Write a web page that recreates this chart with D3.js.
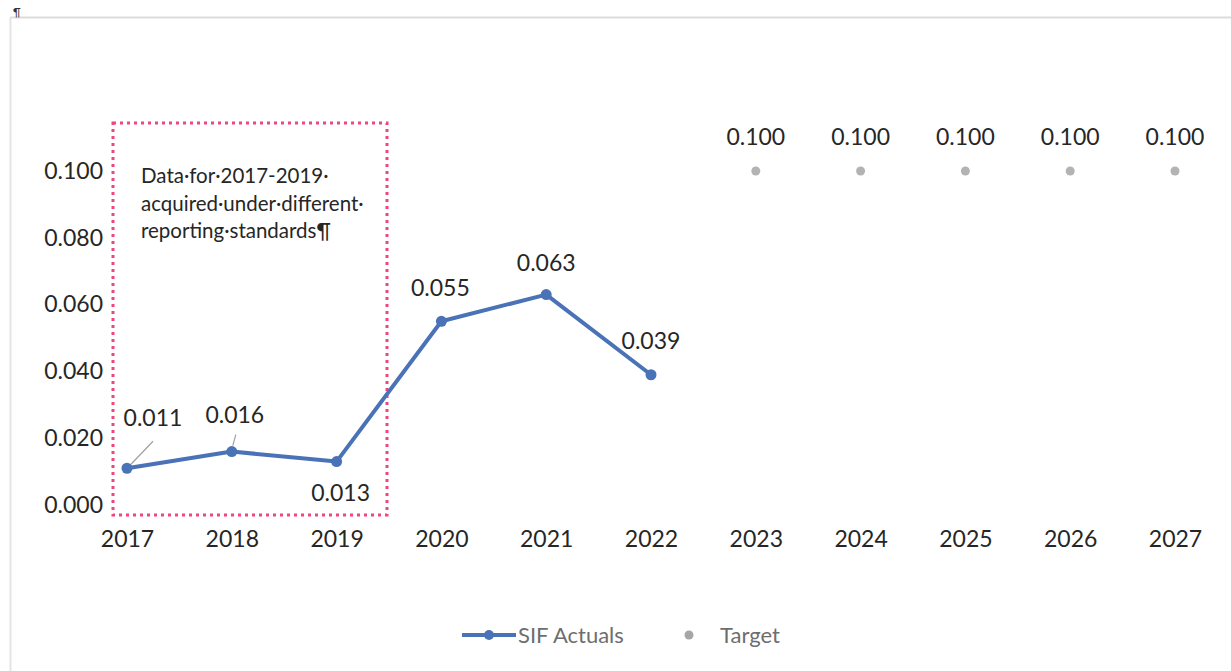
<!DOCTYPE html>
<html>
<head>
<meta charset="utf-8">
<script src="https://cdn.jsdelivr.net/npm/d3@7"></script>
<style>
  html, body { margin: 0; padding: 0; background: #ffffff; }
  svg { display: block; }
  text { font-family: Lato, "Open Sans", sans-serif; }
</style>
</head>
<body>
<svg id="chart" width="1231" height="671"></svg>
<script>
// ---- data ----
const years = ["2017", "2018", "2019", "2020", "2021", "2022", "2023", "2024", "2025", "2026", "2027"];
const actualYears = ["2017", "2018", "2019", "2020", "2021", "2022"];
const actualValues = [0.011, 0.016, 0.013, 0.055, 0.063, 0.039];
const targetYears = ["2023", "2024", "2025", "2026", "2027"];
const targetValues = [0.100, 0.100, 0.100, 0.100, 0.100];
const yTicks = [0.000, 0.020, 0.040, 0.060, 0.080, 0.100];
const seriesNames = ["SIF Actuals", "Target"];
const noteLines = ["Data·for·2017-2019·", "acquired·under·different·", "reporting·standards¶"];
const shadedYears = ["2017", "2019"];

// ---- layout ----
const W = 1231, H = 671;
const svg = d3.select("#chart");
const fmt = d3.format(".3f");

const x = d3.scalePoint().domain(years).range([127, 1175]);
const y = d3.scaleLinear().domain([0, 0.1]).range([505, 171]);

const lineColor = "#4a72b6";
const targetColor = "#a6a6a6";
const textColor = "#262626";
const fontSize = 23;

// frame of the chart area
svg.append("line").attr("x1", 10).attr("x2", W).attr("y1", 17.5).attr("y2", 17.5)
  .attr("stroke", "#dcdcdc").attr("stroke-width", 2);
svg.append("line").attr("x1", 10.5).attr("x2", 10.5).attr("y1", 17).attr("y2", H)
  .attr("stroke", "#e4e4e4").attr("stroke-width", 2);
svg.append("text").attr("x", 13).attr("y", 16).attr("font-size", 11)
  .attr("fill", "#333").text("¶");

// y axis
const yAxis = svg.append("g").attr("transform", "translate(103,0)")
  .call(d3.axisLeft(y).tickValues(yTicks).tickFormat(fmt).tickSize(0).tickPadding(0));
yAxis.select(".domain").remove();
yAxis.selectAll("text").attr("font-size", fontSize).attr("fill", textColor)
  .style("font-family", "Lato, sans-serif");

// x axis
const xAxis = svg.append("g").attr("transform", "translate(0,505)")
  .call(d3.axisBottom(x).tickSize(0).tickPadding(26));
xAxis.select(".domain").remove();
xAxis.selectAll("text").attr("font-size", fontSize).attr("fill", textColor)
  .style("font-family", "Lato, sans-serif");

// dotted frame around the earlier reporting period
const half = x.step() / 2;
const boxX0 = x(shadedYears[0]) - 14;
const boxX1 = x(shadedYears[1]) + half - 2;
svg.append("rect")
  .attr("x", boxX0).attr("y", y(0.1) - 48)
  .attr("width", boxX1 - boxX0).attr("height", y(0) + 10 - (y(0.1) - 48))
  .attr("fill", "none").attr("stroke", "#f0467a").attr("stroke-width", 3)
  .attr("stroke-dasharray", "3,4");

const note = svg.append("text").attr("x", boxX0 + 28).attr("y", 183)
  .attr("font-size", 20.5).attr("fill", textColor);
noteLines.forEach((t, i) => {
  note.append("tspan").attr("x", boxX0 + 28).attr("dy", i === 0 ? 0 : 27.5).text(t);
});

// actual series
const actual = actualYears.map((d, i) => ({ year: d, value: actualValues[i] }));
svg.append("path").datum(actual)
  .attr("fill", "none").attr("stroke", lineColor).attr("stroke-width", 4)
  .attr("stroke-linejoin", "round")
  .attr("d", d3.line().x(d => x(d.year)).y(d => y(d.value)));
svg.selectAll("circle.actual").data(actual).join("circle")
  .attr("class", "actual")
  .attr("cx", d => x(d.year)).attr("cy", d => y(d.value)).attr("r", 5.5)
  .attr("fill", lineColor);

// label placement offsets for the actual series (dx, dy from the point)
const labelOffsets = [[26, -50], [3, -37], [4, 31], [-1, -33], [0, -32], [0, -34]];
// leader lines for labels pulled away from their points
[0, 1].forEach(i => {
  const d = actual[i];
  const px = x(d.year), py = y(d.value);
  svg.append("line")
    .attr("x1", px + (i === 0 ? 4 : 1)).attr("y1", py - (i === 0 ? 4 : 6))
    .attr("x2", px + (i === 0 ? 26 : 4)).attr("y2", py - (i === 0 ? 27 : 17))
    .attr("stroke", "#a0a0a0").attr("stroke-width", 1.2);
});
svg.selectAll("text.alabel").data(actual).join("text")
  .attr("class", "alabel")
  .attr("x", (d, i) => x(d.year) + labelOffsets[i][0])
  .attr("y", (d, i) => y(d.value) + labelOffsets[i][1])
  .attr("text-anchor", "middle").attr("dy", "0.35em")
  .attr("font-size", fontSize).attr("fill", textColor)
  .text(d => fmt(d.value));

// target series
const target = targetYears.map((d, i) => ({ year: d, value: targetValues[i] }));
svg.selectAll("circle.target").data(target).join("circle")
  .attr("class", "target")
  .attr("cx", d => x(d.year)).attr("cy", d => y(d.value)).attr("r", 4.5)
  .attr("fill", targetColor).attr("opacity", 0.85);
svg.selectAll("text.tlabel").data(target).join("text")
  .attr("class", "tlabel")
  .attr("x", d => x(d.year)).attr("y", d => y(d.value) - 34)
  .attr("text-anchor", "middle").attr("dy", "0.35em")
  .attr("font-size", fontSize).attr("fill", textColor)
  .text(d => fmt(d.value));

// legend
const legY = 635;
const leg = svg.append("g");
leg.append("line").attr("x1", 462).attr("x2", 516).attr("y1", legY).attr("y2", legY)
  .attr("stroke", lineColor).attr("stroke-width", 4);
leg.append("circle").attr("cx", 489).attr("cy", legY).attr("r", 5).attr("fill", lineColor);
leg.append("text").attr("x", 518).attr("y", legY).attr("dy", "0.35em")
  .attr("font-size", 22).attr("fill", "#6e6e6e").text(seriesNames[0]);
leg.append("circle").attr("cx", 689).attr("cy", legY).attr("r", 4.5).attr("fill", targetColor);
leg.append("text").attr("x", 720).attr("y", legY).attr("dy", "0.35em")
  .attr("font-size", 22).attr("fill", "#6e6e6e").text(seriesNames[1]);
</script>
</body>
</html>
